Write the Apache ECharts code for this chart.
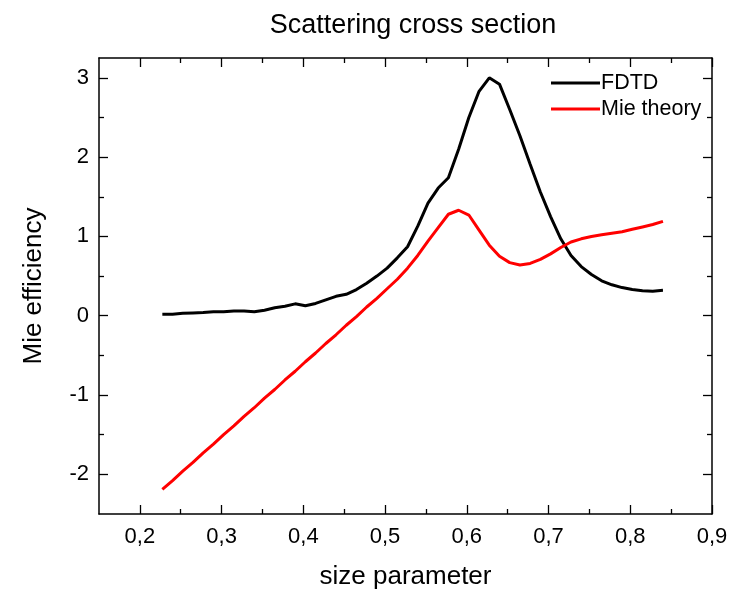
<!DOCTYPE html>
<html>
<head>
<meta charset="utf-8">
<script src="https://cdn.jsdelivr.net/npm/echarts@6/dist/echarts.min.js"></script>
<style>
html,body{margin:0;padding:0;background:#fff;}
#chart{width:729px;height:589px;}
</style>
</head>
<body>
<div id="chart"></div>
<script>
const sizeParameter = [0.2275, 0.24, 0.2525, 0.265, 0.2775, 0.29, 0.3025, 0.315, 0.3275, 0.34,
  0.3525, 0.365, 0.3775, 0.39, 0.4025, 0.415, 0.4275, 0.44, 0.4525, 0.465,
  0.4775, 0.49, 0.5025, 0.515, 0.5275, 0.54, 0.5525, 0.565, 0.5775, 0.59,
  0.6025, 0.615, 0.6275, 0.64, 0.6525, 0.665, 0.6775, 0.69, 0.7025, 0.715,
  0.7275, 0.74, 0.7525, 0.765, 0.7775, 0.79, 0.8025, 0.815, 0.8275, 0.84];
const fdtd = [0.02, 0.02, 0.03, 0.035, 0.04, 0.05, 0.05, 0.06, 0.06, 0.05,
  0.07, 0.10, 0.12, 0.15, 0.125, 0.155, 0.20, 0.245, 0.27, 0.33,
  0.41, 0.50, 0.60, 0.73, 0.87, 1.13, 1.42, 1.61, 1.74, 2.10,
  2.50, 2.83, 3.00, 2.92, 2.60, 2.27, 1.91, 1.56, 1.25, 0.97,
  0.76, 0.62, 0.52, 0.44, 0.39, 0.355, 0.33, 0.315, 0.31, 0.32];
const mieTheory = [-2.19, -2.08, -1.96, -1.85, -1.73, -1.62, -1.50, -1.39, -1.27, -1.16,
  -1.04, -0.93, -0.81, -0.70, -0.58, -0.47, -0.35, -0.24, -0.12, -0.01,
  0.11, 0.22, 0.34, 0.46, 0.60, 0.76, 0.94, 1.11, 1.28, 1.33,
  1.27, 1.08, 0.89, 0.75, 0.67, 0.64, 0.66, 0.71, 0.78, 0.86,
  0.93, 0.97, 1.00, 1.02, 1.04, 1.06, 1.09, 1.12, 1.15, 1.19];
const xMajorTicks = [0.2, 0.3, 0.4, 0.5, 0.6, 0.7, 0.8, 0.9];
const xMinorTicks = [0.25, 0.35, 0.45, 0.55, 0.65, 0.75, 0.85];
const yMajorTicks = [-2, -1, 0, 1, 2, 3];
const yMinorTicks = [-1.5, -0.5, 0.5, 1.5, 2.5];
const seriesNames = ['FDTD', 'Mie theory'];

const FONT = '"Liberation Sans", Arial, sans-serif';
const X_MIN = 0.15, X_MAX = 0.9, Y_MIN = -2.5, Y_MAX = 3.25;

function pairs(xs, ys){ return xs.map((x,i)=>[x, ys[i]]); }

function xAx(pos, ticks, len, showLabel, showLine, extra){
  return Object.assign({
    type:'value', position:pos, min:X_MIN, max:X_MAX,
    axisLine:{show:showLine, onZero:false, lineStyle:{color:'#000', width:1.5}},
    axisTick:{show:true, inside:true, length:len, customValues:ticks, lineStyle:{color:'#000', width:1.3}},
    axisLabel:{show:showLabel, customValues:ticks, margin:12, color:'#000', fontFamily:FONT, fontSize:22,
      formatter:v=>v.toFixed(1).replace('.', ',')},
    splitLine:{show:false}
  }, extra||{});
}
function yAx(pos, ticks, len, showLabel, showLine, extra){
  return Object.assign({
    type:'value', position:pos, min:Y_MIN, max:Y_MAX,
    axisLine:{show:showLine, onZero:false, lineStyle:{color:'#000', width:1.5}},
    axisTick:{show:true, inside:true, length:len, customValues:ticks, lineStyle:{color:'#000', width:1.3}},
    axisLabel:{show:showLabel, customValues:ticks, margin:10, color:'#000', fontFamily:FONT, fontSize:22,
      formatter:v=>String(v)},
    splitLine:{show:false}
  }, extra||{});
}

const chart = echarts.init(document.getElementById('chart'), null, {renderer:'canvas'});
chart.setOption({
  animation:false,
  backgroundColor:'#fff',
  title:{text:'Scattering cross section', left:408, textAlign:'center', top:7,
    textStyle:{fontFamily:FONT, fontSize:27, fontWeight:'normal', color:'#000'}},
  grid:{left:99, right:17, top:58, bottom:75, containLabel:false, outerBoundsMode:'none'},
  legend:{orient:'vertical', left:546, top:67, itemWidth:49, itemHeight:3, itemGap:4,
    icon:'rect', data:seriesNames,
    textStyle:{fontFamily:FONT, fontSize:21.5, color:'#000', padding:[0,0,0,-4]}},
  xAxis:[
    xAx('bottom', xMajorTicks, 9, true, true, {name:'size parameter', nameLocation:'middle', nameGap:50,
      nameTextStyle:{fontFamily:FONT, fontSize:26, color:'#000'}}),
    xAx('bottom', xMinorTicks, 5, false, false),
    xAx('top', xMajorTicks, 9, false, true),
    xAx('top', xMinorTicks, 5, false, false)
  ],
  yAxis:[
    yAx('left', yMajorTicks, 9, true, true, {name:'Mie efficiency', nameLocation:'middle', nameGap:52,
      nameTextStyle:{fontFamily:FONT, fontSize:26, color:'#000'}}),
    yAx('left', yMinorTicks, 5, false, false),
    yAx('right', yMajorTicks, 9, false, true),
    yAx('right', yMinorTicks, 5, false, false)
  ],
  series:[
    {name:seriesNames[0], type:'line', xAxisIndex:0, yAxisIndex:0, data:pairs(sizeParameter, fdtd),
      showSymbol:false, symbol:'none', lineStyle:{color:'#000', width:3}, itemStyle:{color:'#000'}},
    {name:seriesNames[1], type:'line', xAxisIndex:0, yAxisIndex:0, data:pairs(sizeParameter, mieTheory),
      showSymbol:false, symbol:'none', lineStyle:{color:'#ff0000', width:3}, itemStyle:{color:'#ff0000'}}
  ]
});
</script>
</body>
</html>
